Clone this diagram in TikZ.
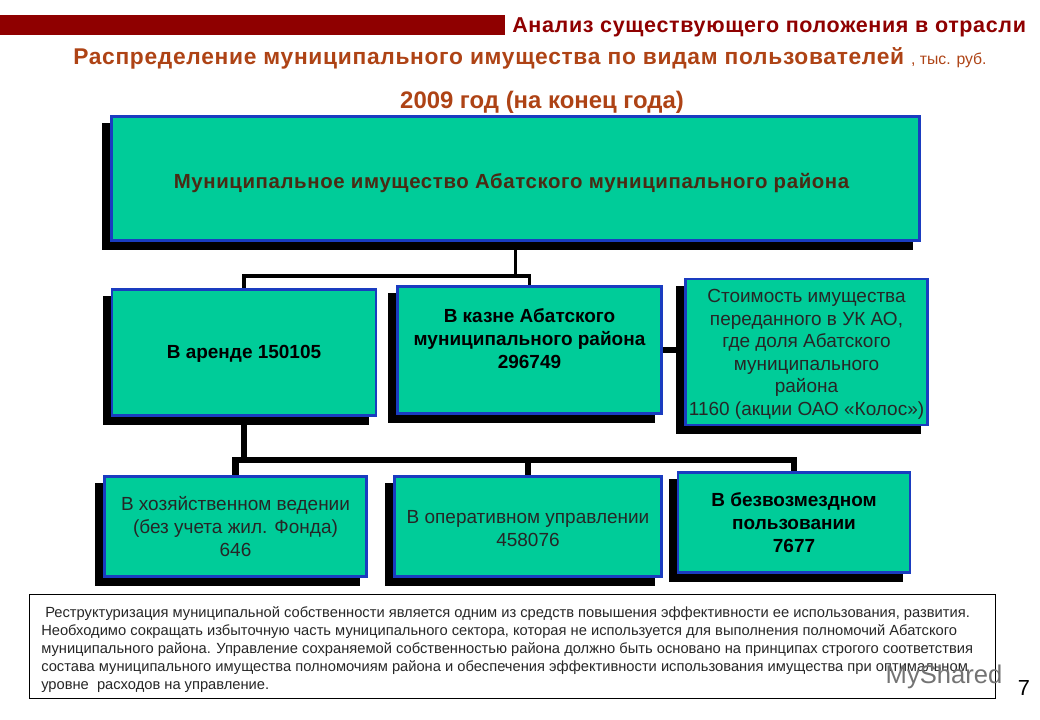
\documentclass[tikz,border=0pt]{standalone}
\usepackage{fontspec}
\setmainfont{Liberation Sans}
\newfontfamily\widefont[LetterSpace=3]{Liberation Sans}
\usetikzlibrary{positioning, shadows, backgrounds}
\definecolor{barred}{HTML}{8F0000}
\definecolor{titlerust}{HTML}{AE4315}
\definecolor{boxteal}{HTML}{00CC99}
\definecolor{boxblue}{HTML}{1A3CC0}
\definecolor{toptext}{HTML}{4A2A14}

\tikzset{
  orgbox/.style={draw=boxblue, fill=boxteal, line width=1.8pt, align=center, inner sep=0pt,
    font=\fontsize{13.5}{16}\selectfont, text=black!85,
    general shadow={shadow xshift=-0.2cm, shadow yshift=-0.2cm, fill=black, draw=black}},
  boldbox/.style={orgbox, font=\fontsize{13.5}{16.3}\selectfont\bfseries, text=black},
  thinlink/.style={draw=black, line width=2.6pt, line join=miter},
  thicklink/.style={draw=black, line width=4.3pt, line join=miter},
}

\begin{document}
\begin{tikzpicture}[x=0.025cm, y=-0.025cm]
    \useasboundingbox (0,0) rectangle (1040,720);
    % heading
    \node (headbar) [fill=barred, minimum width=12.625cm, minimum height=0.5cm, inner sep=0pt] at (252.5,25){};
    \node (headtext) [anchor=west, inner sep=0pt, font=\fontsize{15.3}{18}\widefont\bfseries, text=barred] at (512,27){Анализ существующего положения в отрасли};
    \node (maintitle) [anchor=west, inner sep=0pt, font=\fontsize{16.2}{19}\widefont\bfseries, text=titlerust] at (73,58){Распределение муниципального имущества по видам пользователей {\fontsize{11.2}{15}\selectfont\mdseries\rmfamily, тыс. руб.}};
    \node (yeartitle) [inner sep=0pt, font=\fontsize{17}{20}\selectfont\bfseries, text=titlerust] at (542,102){2009 год (на конец года)};
    % boxes
    \node (total) [boldbox, minimum width=20.2cm, minimum height=3.1cm, text height=0.6cm, font=\fontsize{14.5}{18}\widefont\bfseries, text=toptext] at (515.5,178.5){Муниципальное имущество Абатского муниципального района\hspace*{0.2cm}};
    \node (rent) [boldbox, minimum width=6.6cm, minimum height=3.16cm, text height=0.38cm] at (244,352.5){В аренде 150105};
    \node (treasury) [boldbox, minimum width=6.6cm, minimum height=3.18cm] at (529.5,350){};
    \node (treasurytext) [align=center, inner sep=0pt, font=\fontsize{13.5}{16.3}\selectfont\bfseries, text=black] at (529.5,339){В казне Абатского\\муниципального района\\296749};
    \node (shares) [orgbox, minimum width=6.06cm, minimum height=3.64cm] at (806.5,352){\rule{0pt}{13pt}Стоимость имущества\\переданного в УК АО,\\где доля Абатского\\муниципального\\района\\1160 (акции ОАО «Колос»)};
    \node (economic) [orgbox, minimum width=6.56cm, minimum height=2.51cm, font=\fontsize{13.5}{16.3}\selectfont] at (235.5,526.5){В хозяйственном ведении\\(без учета жил. Фонда)\\646};
    \node (operative) [orgbox, minimum width=6.68cm, minimum height=2.51cm, font=\fontsize{13.5}{16.3}\selectfont] at (528,526.5){\rule{0pt}{12.5pt}В оперативном управлении\\458076};
    \node (free) [boldbox, minimum width=5.79cm, minimum height=2.51cm] at (794,522.5){В безвозмездном\\пользовании\\7677};
    % connectors
    \coordinate (upperbus) at (515.5,276);
    \coordinate (lowerbus) at (244,460);
    \begin{scope}[on background layer]
      \draw[thinlink] (total.south) -- (upperbus);
      \draw[thinlink] (rent.north) |- (upperbus) -| (treasury.north);
      \draw[thicklink] (rent.south) -- (lowerbus);
      \draw[thicklink] (economic.north) |- (lowerbus) -| (free.north);
      \draw[thicklink] (operative.north) -- (operative.north |- lowerbus);
      \draw[thicklink] (treasury.east) -- (treasury.east -| shares.west);
    \end{scope}
    % note at the bottom
    \node (note) [draw=black, line width=0.8pt, minimum width=24.15cm, minimum height=2.62cm, inner sep=0pt] at (512.75,646.5){};
    \node (notetext) [anchor=west, inner sep=0pt, align=left, text=black!85, font=\fontsize{10.45}{12.8}\selectfont] at (41,650){\hspace*{0.1cm}Реструктуризация муниципальной собственности является одним из средств повышения эффективности ее использования, развития.\\Необходимо сокращать избыточную часть муниципального сектора, которая не используется для выполнения полномочий Абатского\\муниципального района. Управление сохраняемой собственностью района должно быть основано на принципах строгого соответствия\\состава муниципального имущества полномочиям района и обеспечения эффективности использования имущества при оптимальном\\уровне\ \ расходов на управление.};
    \node (pagenum) [inner sep=0pt, font=\fontsize{15.5}{18}\selectfont] at (1024,688){7};
    \node (stamp) [inner sep=0pt, text=black!55, font=\fontsize{18.2}{21}\selectfont] at (944,677){MyShared};
  \end{tikzpicture}
\end{document}
